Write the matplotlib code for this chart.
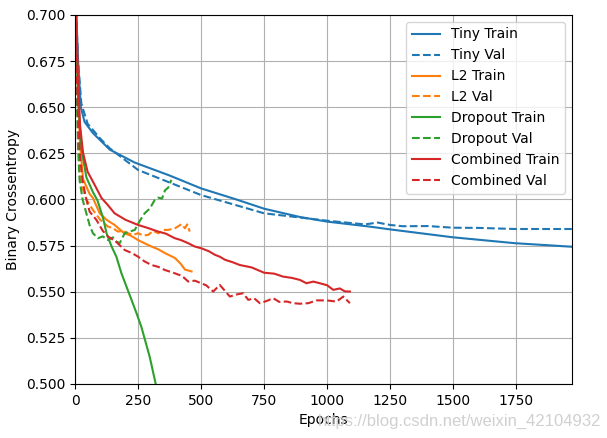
import matplotlib
matplotlib.use('Agg')
import matplotlib.pyplot as plt

# values
tinyTrainEpochs = [0, 5, 12, 23, 38, 71, 138, 237, 375, 500, 640, 750, 892, 1000, 1169, 1249, 1499, 1745, 1970]
tinyTrain = [0.76, 0.70, 0.675, 0.650, 0.642, 0.636, 0.627, 0.620, 0.613, 0.606, 0.600, 0.595, 0.5905, 0.588, 0.5853, 0.5838, 0.5795, 0.5763, 0.5744]
tinyValEpochs = [0, 5, 12, 25, 50, 71, 100, 138, 250, 500, 750, 1000, 1150, 1200, 1249, 1300, 1400, 1499, 1600, 1745, 1970]
tinyVal = [0.75, 0.70, 0.675, 0.652, 0.641, 0.6377, 0.633, 0.6277, 0.616, 0.6024, 0.5925, 0.5885, 0.5865, 0.5875, 0.5862, 0.5855, 0.5856, 0.5847, 0.5846, 0.584, 0.584]

l2TrainEpochs = [0, 5, 12, 20, 32, 58, 71, 98, 125, 157, 195, 220, 250, 280, 303, 330, 356, 396, 420, 436, 462]
l2Train = [0.74, 0.69, 0.655, 0.630, 0.611, 0.603, 0.6008, 0.5925, 0.589, 0.5862, 0.5817, 0.5805, 0.578, 0.576, 0.5745, 0.573, 0.571, 0.5683, 0.565, 0.562, 0.561]
l2ValEpochs = [0, 5, 12, 18, 30, 45, 71, 100, 131, 150, 170, 190, 210, 230, 250, 270, 290, 310, 330, 350, 369, 396, 410, 422, 436, 445, 455]
l2Val = [0.73, 0.68, 0.635, 0.614, 0.606, 0.600, 0.5943, 0.589, 0.5853, 0.5845, 0.5826, 0.583, 0.5817, 0.5808, 0.5817, 0.5805, 0.5808, 0.583, 0.5817, 0.5835, 0.5835, 0.5844, 0.5855, 0.5867, 0.5844, 0.5865, 0.5826]

dropoutTrainEpochs = [0, 5, 12, 25, 45, 71, 89, 111, 125, 145, 164, 184, 204, 224, 244, 263, 296, 320]
dropoutTrain = [0.74, 0.69, 0.655, 0.628, 0.612, 0.604, 0.5995, 0.590, 0.5817, 0.5745, 0.569, 0.560, 0.5528, 0.5456, 0.5383, 0.531, 0.5148, 0.500]
dropoutValEpochs = [0, 5, 12, 18, 30, 45, 58, 71, 91, 110, 131, 150, 164, 177, 197, 215, 237, 255, 276, 296, 316, 330, 345, 357, 370, 382]
dropoutVal = [0.73, 0.67, 0.628, 0.6106, 0.600, 0.5925, 0.586, 0.5817, 0.579, 0.580, 0.578, 0.5795, 0.5772, 0.5763, 0.5817, 0.5825, 0.5835, 0.588, 0.5925, 0.595, 0.5997, 0.601, 0.6005, 0.605, 0.6065, 0.6106]

combinedTrainEpochs = [0, 5, 12, 20, 32, 50, 71, 105, 130, 157, 200, 250, 290, 330, 360, 396, 420, 449, 475, 502, 530, 555, 574, 595, 625, 653, 700, 750, 790, 825, 860, 892, 918, 945, 971, 1000, 1024, 1050, 1070, 1090]
combinedTrain = [0.75, 0.70, 0.665, 0.640, 0.6252, 0.615, 0.6097, 0.6008, 0.597, 0.5925, 0.589, 0.5862, 0.5845, 0.5826, 0.5815, 0.579, 0.578, 0.5763, 0.5745, 0.5735, 0.572, 0.570, 0.569, 0.5673, 0.566, 0.5645, 0.5632, 0.5603, 0.5598, 0.5582, 0.5575, 0.5564, 0.5546, 0.5555, 0.5546, 0.5535, 0.551, 0.5518, 0.5502, 0.5501]
combinedValEpochs = [0, 5, 12, 20, 30, 45, 58, 85, 110, 131, 160, 197, 225, 250, 275, 303, 330, 356, 396, 425, 449, 475, 495, 520, 548, 574, 614, 640, 667, 687, 710, 733, 760, 786, 810, 839, 865, 892, 925, 958, 998, 1037, 1064, 1090]
combinedVal = [0.74, 0.68, 0.645, 0.623, 0.610, 0.600, 0.5934, 0.5889, 0.583, 0.5799, 0.5775, 0.5726, 0.571, 0.569, 0.5665, 0.5645, 0.5635, 0.5618, 0.560, 0.5585, 0.5555, 0.556, 0.5549, 0.5535, 0.5501, 0.5537, 0.5474, 0.5485, 0.5492, 0.5456, 0.5465, 0.5438, 0.545, 0.5465, 0.5445, 0.5447, 0.5438, 0.5435, 0.5438, 0.5453, 0.5453, 0.5447, 0.5474, 0.5438]

seriesNames = ['Tiny', 'L2', 'Dropout', 'Combined']
colors = ['#1f77b4', '#ff7f0e', '#2ca02c', '#d62728']

def main():
    fig = plt.figure(figsize=(6.07, 4.38), dpi=100)
    ax = fig.add_axes([0.1236, 0.1233, 0.8184, 0.8425])
    trains = [(tinyTrainEpochs, tinyTrain), (l2TrainEpochs, l2Train),
              (dropoutTrainEpochs, dropoutTrain), (combinedTrainEpochs, combinedTrain)]
    vals = [(tinyValEpochs, tinyVal), (l2ValEpochs, l2Val),
            (dropoutValEpochs, dropoutVal), (combinedValEpochs, combinedVal)]
    for name, color, (tx, ty), (vx, vy) in zip(seriesNames, colors, trains, vals):
        ax.plot(tx, ty, color=color, label=name + ' Train')
        ax.plot(vx, vy, '--', color=color, label=name + ' Val')
    ax.set_xlabel('Epochs')
    ax.set_ylabel('Binary Crossentropy')
    ax.set_xlim(0, 1970)
    ax.set_ylim(0.5, 0.7)
    ax.grid(True)
    ax.legend(loc='upper right')
    # csdn watermark, sits under the x label like in the source image
    fig.text(0.99, 0.028, 'https://blog.csdn.net/weixin_42104932', ha='right',
             va='baseline', color='#d0d0d0', fontsize=12, family='Liberation Sans',
             zorder=0)
    fig.savefig('out.png', dpi=100)

if __name__ == "__main__":
    main()
